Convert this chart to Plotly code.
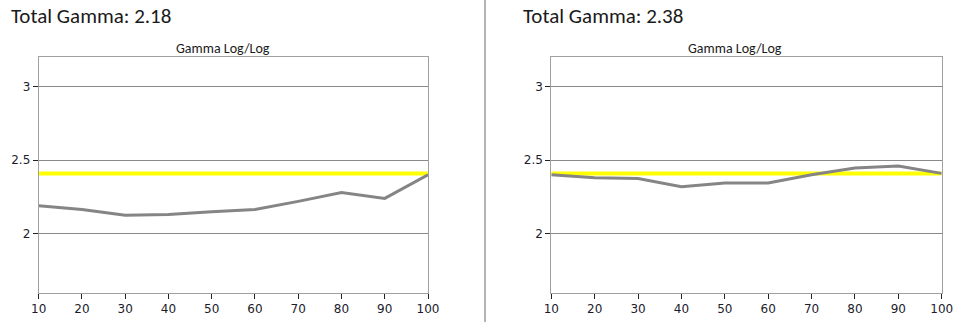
import plotly.graph_objects as go

levels = [10, 20, 30, 40, 50, 60, 70, 80, 90, 100]
gamma_left = [2.19, 2.165, 2.125, 2.13, 2.15, 2.165, 2.22, 2.28, 2.24, 2.40]
gamma_right = [2.40, 2.38, 2.375, 2.32, 2.345, 2.345, 2.40, 2.446, 2.46, 2.41]
target_gamma = 2.41
total_left = "Total Gamma: 2.18"
total_right = "Total Gamma: 2.38"
panel_title = "Gamma Log/Log"
y_ticks = [2, 2.5, 3]
y_tick_text = ["2", "2.5", "3"]

W, H = 972, 322
fig = go.Figure()

panels = [
    ("x", "y", gamma_left, [38.7 / W, 428 / W]),
    ("x2", "y2", gamma_right, [551.3 / W, 941.7 / W]),
]
ydom = [1 - 292.7 / H, 1 - 57 / H]

for xa, ya, vals, dom in panels:
    fig.add_trace(go.Scatter(x=[levels[0], levels[-1]], y=[target_gamma, target_gamma],
                             mode="lines", line=dict(color="#ffff00", width=4),
                             xaxis=xa, yaxis=ya, hoverinfo="skip"))
    fig.add_trace(go.Scatter(x=levels, y=vals, mode="lines",
                             line=dict(color="#858585", width=3),
                             xaxis=xa, yaxis=ya))

axis_font = dict(family="DejaVu Sans", size=12, color="#1c1c2c")
common_x = dict(range=[10, 100], tickvals=levels, ticks="outside", ticklen=5,
                tickcolor="#222", showline=True, linecolor="#a0a0a0", linewidth=1,
                mirror=True, showgrid=False, zeroline=False, tickfont=axis_font,
                fixedrange=True, automargin=False)
common_y = dict(range=[1.6, 3.2], tickvals=y_ticks, ticktext=y_tick_text,
                ticks="outside", ticklen=5, tickcolor="#222", showline=True,
                linecolor="#a0a0a0", linewidth=1, mirror=True, showgrid=True,
                gridcolor="#8a8a8a", gridwidth=1, zeroline=False,
                tickfont=axis_font, domain=ydom, fixedrange=True, automargin=False)

fig.update_layout(
    width=W, height=H, margin=dict(l=0, r=0, t=0, b=0),
    paper_bgcolor="white", plot_bgcolor="white", showlegend=False,
    xaxis=dict(domain=panels[0][3], anchor="y", **common_x),
    yaxis=dict(anchor="x", **common_y),
    xaxis2=dict(domain=panels[1][3], anchor="y2", **common_x),
    yaxis2=dict(anchor="x2", **common_y),
)

title_font = dict(family="Carlito, Calibri, Open Sans", size=21, color="#1a1a1a")
sub_font = dict(family="Carlito, Calibri, Open Sans", size=14, color="#1a1a1a")
fig.add_annotation(text=total_left, x=9 / W, y=1 - 16 / H, xref="paper", yref="paper",
                   xanchor="left", yanchor="middle", showarrow=False, font=title_font)
fig.add_annotation(text=total_right, x=521 / W, y=1 - 16 / H, xref="paper", yref="paper",
                   xanchor="left", yanchor="middle", showarrow=False, font=title_font)
fig.add_annotation(text=panel_title, x=223 / W, y=1 - 48 / H, xref="paper", yref="paper",
                   xanchor="center", yanchor="middle", showarrow=False, font=sub_font)
fig.add_annotation(text=panel_title, x=735 / W, y=1 - 48 / H, xref="paper", yref="paper",
                   xanchor="center", yanchor="middle", showarrow=False, font=sub_font)

fig.add_shape(type="line", xref="paper", yref="paper", x0=485 / W, x1=485 / W, y0=0, y1=1,
              line=dict(color="#b4b4b4", width=2))

fig.write_html("out.html")
